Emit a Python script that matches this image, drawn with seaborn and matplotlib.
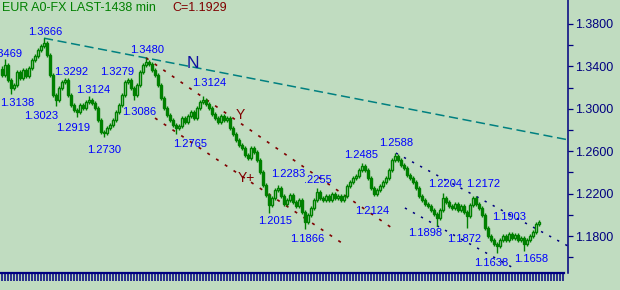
import matplotlib
matplotlib.use("Agg")
import matplotlib.pyplot as plt
import seaborn as sns
import numpy as np
import pandas as pd
from matplotlib import font_manager
from matplotlib.ticker import FormatStrFormatter

# ---------------- data ----------------
open_first = 1.3380
closes = [
    1.3319, 1.3413, 1.3272, 1.3196, 1.3224, 1.3347, 1.3290, 1.3366, 1.3309, 1.3385,
    1.3460, 1.3498, 1.3554, 1.3592, 1.3621, 1.3507, 1.3319, 1.3130, 1.3083, 1.3196,
    1.3253, 1.3272, 1.3130, 1.3036, 1.2989, 1.2970, 1.3036, 1.3008, 1.3064, 1.3083,
    1.3055, 1.3008, 1.2894, 1.2781, 1.2772, 1.2819, 1.2847, 1.2894, 1.2970, 1.3036,
    1.3130, 1.3253, 1.3272, 1.3196, 1.3130, 1.3224, 1.3347, 1.3413, 1.3441, 1.3422,
    1.3366, 1.3319, 1.3224, 1.3102, 1.3008, 1.2942, 1.2894, 1.2847, 1.2819, 1.2838,
    1.2913, 1.2876, 1.2932, 1.2970, 1.2913, 1.3008, 1.3064, 1.3083, 1.3045, 1.3008,
    1.2951, 1.2913, 1.2876, 1.2932, 1.2894, 1.2913, 1.2819, 1.2762, 1.2706, 1.2659,
    1.2630, 1.2564, 1.2536, 1.2630, 1.2593, 1.2517, 1.2404, 1.2281, 1.2187, 1.2093,
    1.2159, 1.2234, 1.2253, 1.2178, 1.2102, 1.2140, 1.2187, 1.2121, 1.2083, 1.2140,
    1.2027, 1.1933, 1.1999, 1.2065, 1.2140, 1.2215, 1.2159, 1.2140, 1.2178, 1.2140,
    1.2197, 1.2159, 1.2178, 1.2140, 1.2178, 1.2272, 1.2310, 1.2347, 1.2366, 1.2423,
    1.2461, 1.2423, 1.2347, 1.2253, 1.2197, 1.2234, 1.2272, 1.2310, 1.2347, 1.2423,
    1.2517, 1.2555, 1.2517, 1.2470, 1.2442, 1.2376, 1.2347, 1.2310, 1.2253, 1.2178,
    1.2140, 1.2102, 1.2083, 1.2046, 1.2008, 1.1970, 1.2046, 1.2159, 1.2121, 1.2083,
    1.2065, 1.2102, 1.2046, 1.2083, 1.2027, 1.1989, 1.2093, 1.2159, 1.2102, 1.2065,
    1.1999, 1.1876, 1.1801, 1.1763, 1.1725, 1.1706, 1.1763, 1.1801, 1.1763, 1.1819,
    1.1782, 1.1810, 1.1763, 1.1782, 1.1725, 1.1763, 1.1801, 1.1838, 1.1914, 1.1929,
]

# swing points: value, bar index, kind (H = high, L = low, '' = label only)
pivot_vals = [1.3469, 1.3666, 1.3138, 1.3023, 1.3292, 1.3124, 1.2919, 1.2730, 1.3279,
              1.3086, 1.3480, 1.3124, 1.2765, 1.2283, 1.2255, 1.2015, 1.1866, 1.2485,
              1.2124, 1.2588, 1.2204, 1.2172, 1.1898, 1.1872, 1.1903, 1.1638, 1.1658]
pivot_bars = [1, 14, 3, 18, 21, 29, 25, 34, 42,
              44, 48, 67, 58, 92, 105, 89, 101, 120,
              113, 131, 147, 157, 145, 155, 170, 165, 174]
pivot_kind = ['H', 'H', 'L', 'L', 'H', 'H', 'L', 'L', 'H',
              'L', 'H', 'H', 'L', 'H', 'H', 'L', 'L', 'H',
              'L', 'H', 'H', 'H', 'L', 'L', '', 'L', 'L']
pivot_text = ['1.3469', '1.3666', '1.3138', '1.3023', '1.3292', '1.3124', '1.2919', '1.2730', '1.3279',
              '1.3086', '1.3480', '1.3124', '1.2765', '1.2283', '.2255', '1.2015', '1.1866', '1.2485',
              '1.2124', '1.2588', '1.2204', '1.2172', '1.1898', '1.1872', '1.1903', '1.1638', '1.1658']

# trend lines: (bar indices, prices)
line_N_bars, line_N_vals = [14, 189], [1.3666, 1.2706]
line_Y_bars, line_Y_vals = [48, 130], [1.3480, 1.1876]
line_Yp_bars, line_Yp_vals = [51, 114.3], [1.2913, 1.1716]
line_up_bars, line_up_vals = [131.3, 188.7], [1.2583, 1.1706]
line_lo_bars, line_lo_vals = [134.3, 171.7], [1.2065, 1.1480]

y_major = [1.18, 1.22, 1.26, 1.30, 1.34, 1.38]
y_minor = [1.16, 1.20, 1.24, 1.28, 1.32, 1.36]
title_text = "EUR A0-FX LAST-1438 min"
last_text = "C=1.1929"

# ---------------- layout / style ----------------
W, H = 620, 290
BG = "#C0DCC0"
GREEN = "#008000"
NAVY = "#000080"
BLUE = "#0000FF"
DRED = "#800000"
TEAL = "#008080"
WICK = 0.0022

label_px = [(22, 54, 'right'), (45, 32, 'center'), (17, 103, 'center'), (41, 116, 'center'),
            (71, 72, 'center'), (93, 90, 'center'), (73, 128, 'center'), (104, 150, 'center'),
            (117, 72, 'center'), (139, 112, 'center'), (147, 50, 'center'), (209, 83, 'center'),
            (190, 144, 'center'), (288, 174, 'center'), (304, 180, 'left'), (275, 221, 'center'),
            (307, 239, 'center'), (361, 155, 'center'), (372, 211, 'center'), (396, 143, 'center'),
            (445, 184, 'center'), (483, 184, 'center'), (425, 233, 'center'), (464, 239, 'center'),
            (509, 217, 'center'), (491, 263, 'center'), (531, 259, 'center')]

sns.set_theme(style="white", rc={"axes.facecolor": BG, "figure.facecolor": BG,
                                 "savefig.facecolor": BG})
plt.rcParams['font.family'] = ['Liberation Sans', 'DejaVu Sans']

try:
    font_manager.findfont("Liberation Sans Narrow", fallback_to_default=False)
    lab_family, lab_size = ['Liberation Sans Narrow', 'Liberation Sans'], 9.6
except Exception:
    lab_family, lab_size = ['Liberation Sans', 'DejaVu Sans'], 8.0

fig = plt.figure(figsize=(W / 100, H / 100), dpi=100)
ax = fig.add_axes([0, (H - 273) / H, 568 / W, 273 / H])
ax.set_facecolor(BG)

n = len(closes)
idx = np.arange(n)
c = np.array(closes)
o = np.concatenate([[open_first], c[:-1]])
hi = np.maximum(o, c) + WICK
lo = np.minimum(o, c) - WICK
for v, b, k in zip(pivot_vals, pivot_bars, pivot_kind):
    if k == 'H':
        hi[b] = max(hi[b], v)
    elif k == 'L':
        lo[b] = min(lo[b], v)

df = pd.DataFrame({"bar": idx, "open": o, "close": c, "high": hi, "low": lo})

# trend lines via seaborn
sns.lineplot(x=line_N_bars, y=line_N_vals, ax=ax, color=TEAL, lw=1.1,
             linestyle=(0, (6, 3)), zorder=1)
for bx, vy in [(line_Y_bars, line_Y_vals), (line_Yp_bars, line_Yp_vals)]:
    sns.lineplot(x=bx, y=vy, ax=ax, color=DRED, lw=1.2, linestyle=(0, (1.8, 4.5)), zorder=1)
for bx, vy in [(line_up_bars, line_up_vals), (line_lo_bars, line_lo_vals)]:
    sns.lineplot(x=bx, y=vy, ax=ax, color=NAVY, lw=1.1, linestyle=(0, (1.5, 4.5)), zorder=1)

# candles
ax.vlines(df["bar"], df["low"], df["high"], color=GREEN, lw=1.0, zorder=2)
up = df["close"] >= df["open"]
bottoms = np.minimum(df["open"], df["close"])
heights = np.maximum(np.abs(df["close"] - df["open"]), 0.0005)
faces = np.where(up, BG, GREEN)
ax.bar(df["bar"], heights, bottom=bottoms, width=0.78, color=faces,
       edgecolor=GREEN, linewidth=1.0, zorder=3)

ax.set_xlim(-0.667, 188.667)
ax.set_ylim(1.1452, 1.4026)

# axes styling
ax.yaxis.tick_right()
ax.set_yticks(y_major)
ax.set_yticks(y_minor, minor=True)
ax.yaxis.set_major_formatter(FormatStrFormatter('%.4f'))
ax.tick_params(axis='y', which='both', direction='out', length=3.5, width=0.9,
               color=NAVY, labelcolor=NAVY, labelsize=9, pad=1.5, right=True, left=False)
ax.set_xticks(np.arange(0, 188))
ax.tick_params(axis='x', which='major', direction='out', length=5.8, width=1.1,
               color=NAVY, labelbottom=False, bottom=True)
for s in ['left', 'top']:
    ax.spines[s].set_visible(False)
ax.spines['right'].set_color(NAVY)
ax.spines['right'].set_linewidth(1.1)
ax.spines['bottom'].set_color(NAVY)
ax.spines['bottom'].set_linewidth(1.6)
ax.spines['bottom'].set_bounds(-0.667, 187.3)
ax.grid(False)

# labels
for txt, (px, py, ha) in zip(pivot_text, label_px):
    fig.text(px / W, 1 - py / H, txt, ha=ha, va='center', color=BLUE,
             fontsize=lab_size, family=lab_family)

fig.text(193 / W, 1 - 63 / H, "N", ha='center', va='center', color="#1010A0",
         fontsize=12.5, family=lab_family)
fig.text(240 / W, 1 - 115 / H, "Y", ha='center', va='center', color=DRED,
         fontsize=10, family=lab_family)
fig.text(246 / W, 1 - 178 / H, "Y+", ha='center', va='center', color=DRED,
         fontsize=10, family=lab_family)

fig.text(2 / W, 1 - 8 / H, title_text, ha='left', va='center', color=GREEN, fontsize=9)
fig.text(172 / W, 1 - 8 / H, last_text, ha='left', va='center', color=DRED, fontsize=9)

fig.savefig("out.png", dpi=100, facecolor=BG)
